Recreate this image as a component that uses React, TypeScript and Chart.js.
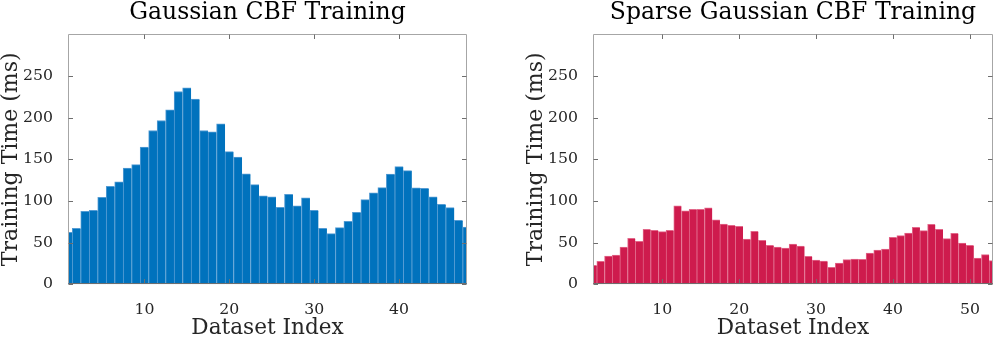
import React, { useEffect, useRef } from "react";
import { Chart, registerables } from "chart.js";

Chart.register(...registerables);

// ---- data ----
const gaussianIndex = [
  1, 2, 3, 4, 5, 6, 7, 8, 9, 10, 11, 12, 13, 14, 15, 16, 17, 18, 19, 20, 21, 22, 23, 24,
  25, 26, 27, 28, 29, 30, 31, 32, 33, 34, 35, 36, 37, 38, 39, 40, 41, 42, 43, 44, 45, 46, 47, 48,
];
const gaussianTimes = [
  62.5, 67.3, 87.7, 88.9, 104.5, 117.7, 122.9, 139.4, 143.7, 164.6,
  184.6, 196.6, 209.4, 231.4, 235.9, 222.3, 184.6, 183.0, 192.6, 159.3,
  152.6, 132.5, 119.7, 106.1, 104.9, 92.5, 108.1, 94.1, 103.7, 88.9,
  67.3, 60.8, 68.0, 75.7, 86.5, 101.6, 109.7, 116.1, 132.2, 141.3,
  136.5, 115.7, 115.3, 104.9, 96.1, 92.1, 76.9, 68.8,
];
const sparseIndex = [
  1, 2, 3, 4, 5, 6, 7, 8, 9, 10, 11, 12, 13, 14, 15, 16, 17, 18, 19, 20, 21, 22, 23, 24, 25, 26,
  27, 28, 29, 30, 31, 32, 33, 34, 35, 36, 37, 38, 39, 40, 41, 42, 43, 44, 45, 46, 47, 48, 49, 50,
  51, 52, 53,
];
const sparseTimes = [
  22.8, 27.6, 34.0, 35.2, 44.8, 55.3, 51.7, 66.1, 64.9, 63.2,
  64.9, 94.1, 88.1, 90.1, 90.1, 91.7, 77.3, 72.4, 70.9, 69.7,
  54.4, 63.7, 52.9, 46.9, 44.8, 43.6, 48.4, 46.0, 33.6, 29.2,
  28.0, 20.4, 25.6, 29.6, 30.4, 30.0, 37.6, 41.2, 42.4, 56.5,
  58.4, 61.6, 68.5, 64.4, 72.1, 66.1, 54.8, 61.3, 49.6, 46.9,
  31.6, 35.6, 28.4,
];
const gaussianXTicks = [10, 20, 30, 40];
const sparseXTicks = [10, 20, 30, 40, 50];
const yTicks = [0, 50, 100, 150, 200, 250];

const FONT = "'DejaVu Serif', serif";

const framePlugin = {
  id: "frame",
  afterDatasetsDraw(chart: any) {
    const { ctx, chartArea: a, scales } = chart;
    const x = scales.x;
    const y = scales.y;
    ctx.save();
    const L = Math.round(a.left) + 0.5;
    const R = Math.round(a.right) - 0.5;
    const T = Math.round(a.top) + 0.5;
    const B = Math.round(a.bottom) - 0.5;
    ctx.strokeStyle = "#a6a6a6";
    ctx.lineWidth = 1;
    ctx.beginPath();
    ctx.moveTo(L, T);
    ctx.lineTo(R, T);
    ctx.lineTo(R, B);
    ctx.moveTo(L, T);
    ctx.lineTo(L, B);
    ctx.stroke();
    ctx.strokeStyle = "#6e6e6e";
    ctx.beginPath();
    ctx.moveTo(L, B);
    ctx.lineTo(R, B);
    const len = 4.5;
    x.ticks.forEach((t: any) => {
      const px = Math.round(x.getPixelForValue(t.value)) + 0.5;
      ctx.moveTo(px, B);
      ctx.lineTo(px, B - len);
      ctx.moveTo(px, T);
      ctx.lineTo(px, T + len);
    });
    y.ticks.forEach((t: any) => {
      const py = Math.round(y.getPixelForValue(t.value)) + 0.5;
      ctx.moveTo(L, py);
      ctx.lineTo(L + len, py);
      ctx.moveTo(R, py);
      ctx.lineTo(R - len, py);
    });
    ctx.stroke();
    ctx.restore();
  },
};

type PanelProps = {
  title: string;
  index: number[];
  values: number[];
  xTicks: number[];
  xMax: number;
  color: string;
  edge: string;
  left: number;
  plotWidth: number;
};

function Panel({ title, index, values, xTicks, xMax, color, edge, left, plotWidth }: PanelProps) {
  const ref = useRef<HTMLCanvasElement | null>(null);
  const axisW = 68;
  const width = axisW + plotWidth + axisW;
  const height = 340;

  useEffect(() => {
    if (!ref.current) return;
    const chart = new Chart(ref.current, {
      type: "bar",
      data: {
        datasets: [
          {
            data: index.map((v, i) => ({ x: v, y: values[i] })),
            backgroundColor: color,
            borderColor: edge,
            borderWidth: { left: 1, top: 1, right: 0, bottom: 0 },
            borderSkipped: false,
            barPercentage: 1,
            categoryPercentage: 1,
            clip: 0,
          } as any,
        ],
      },
      options: {
        responsive: false,
        animation: false,
        devicePixelRatio: 1,
        layout: { padding: 0 },
        plugins: {
          legend: { display: false },
          tooltip: { enabled: false },
          title: {
            display: true,
            text: title,
            color: "#000",
            font: { family: FONT, size: 23.5, weight: "normal", lineHeight: 1 },
            padding: { top: 1, bottom: 9.8 },
          },
        },
        scales: {
          x: {
            type: "linear",
            min: 1,
            max: xMax,
            offset: false,
            grid: { display: false },
            border: { display: false },
            afterBuildTicks: (s: any) => {
              s.ticks = xTicks.map((v) => ({ value: v }));
            },
            afterFit: (s: any) => {
              s.height = 55.7;
            },
            ticks: {
              color: "#262626",
              font: { family: FONT, size: 15.7, lineHeight: 1 },
              padding: 10,
              maxRotation: 0,
              autoSkip: false,
            },
            title: {
              display: true,
              text: "Dataset Index",
              color: "#262626",
              font: { family: FONT, size: 21.6, lineHeight: 1 },
              padding: { top: 0, bottom: 0.5 },
            },
          },
          y: {
            min: 0,
            max: 300,
            grid: { display: false },
            border: { display: false },
            afterBuildTicks: (s: any) => {
              s.ticks = yTicks.map((v) => ({ value: v }));
            },
            afterFit: (s: any) => {
              s.width = axisW;
            },
            ticks: {
              color: "#262626",
              font: { family: FONT, size: 15.7, lineHeight: 1 },
              padding: 7,
            },
            title: {
              display: true,
              text: "Training Time (ms)",
              color: "#262626",
              font: { family: FONT, size: 22, lineHeight: 1 },
              padding: { top: 0, bottom: 0 },
            },
          },
          yRightSpacer: {
            position: "right",
            min: 0,
            max: 1,
            grid: { display: false },
            border: { display: false },
            ticks: { display: false },
            afterFit: (s: any) => {
              s.width = axisW;
            },
          },
        },
      },
      plugins: [framePlugin],
    } as any);
    return () => chart.destroy();
  }, []);

  return (
    <canvas
      ref={ref}
      width={width}
      height={height}
      style={{ position: "absolute", left, top: 0, width, height }}
    />
  );
}

export default function App() {
  return (
    <div
      style={{
        position: "fixed",
        left: 0,
        top: 0,
        width: 996,
        height: 340,
        overflow: "hidden",
        background: "#fff",
      }}
    >
      <Panel
        title="Gaussian CBF Training"
        index={gaussianIndex}
        values={gaussianTimes}
        xTicks={gaussianXTicks}
        xMax={48}
        color="rgb(0,114,189)"
        edge="rgb(84,156,212)"
        left={0}
        plotWidth={399}
      />
      <Panel
        title="Sparse Gaussian CBF Training"
        index={sparseIndex}
        values={sparseTimes}
        xTicks={sparseXTicks}
        xMax={53}
        color="rgb(206,27,77)"
        edge="rgb(226,104,138)"
        left={525}
        plotWidth={400}
      />
    </div>
  );
}
